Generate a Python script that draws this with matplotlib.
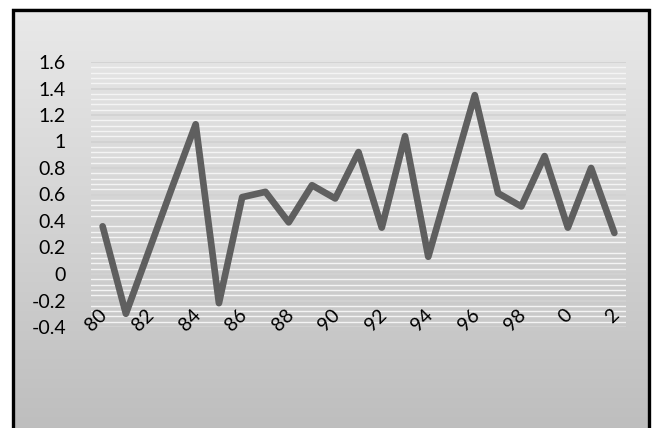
import numpy as np
import matplotlib
matplotlib.use("Agg")
import matplotlib.pyplot as plt
from matplotlib.transforms import blended_transform_factory, ScaledTranslation
from matplotlib.ticker import MultipleLocator, FixedLocator

plt.rcParams['font.family'] = ['Lato', 'DejaVu Sans']

years = list(range(1980, 2003))
values = [0.36, -0.30, 0.18, 0.66, 1.13, -0.22, 0.58, 0.62, 0.39, 0.67,
          0.57, 0.92, 0.35, 1.04, 0.13, 0.74, 1.35, 0.61, 0.51, 0.89,
          0.35, 0.80, 0.31]
tick_labels = [str(y % 100) if y % 2 == 0 else "" for y in years]
y_ticks = [-0.4, -0.2, 0, 0.2, 0.4, 0.6, 0.8, 1, 1.2, 1.4, 1.6]

W, H = 654, 428
fig = plt.figure(figsize=(W / 100, H / 100), dpi=100)
fig.patch.set_facecolor("white")

# background chart area with vertical gradient
x0, x1, ytop = 12, 650, 8
bg = fig.add_axes([x0 / W, 0, (x1 - x0) / W, (H - ytop) / H], zorder=0)
grad = np.linspace(0.915, 0.745, 256).reshape(-1, 1)
bg.imshow(np.dstack([grad, grad, grad]), aspect="auto", extent=[0, 1, 0, 1], origin="upper")
bg.set_xlim(0, 1); bg.set_ylim(0, 1)
bg.axis("off")
bg.plot([0.002, 0.002, 0.998, 0.998], [0, 0.996, 0.996, 0], color="black", lw=2.4,
        solid_joinstyle="miter", clip_on=False)

ax = fig.add_axes([91 / W, 1 - 327 / H, (626 - 91) / W, (327 - 62) / H], zorder=1)
ax.patch.set_alpha(0)
x = np.arange(len(years))
ax.set_xlim(-0.5, len(years) - 0.5)
ax.set_ylim(-0.4, 1.6)

ax.yaxis.set_major_locator(FixedLocator(y_ticks))
ax.yaxis.set_minor_locator(MultipleLocator(0.04))
ax.set_yticklabels([f"{v:g}" for v in y_ticks])
ax.grid(which="minor", axis="y", color="#f4f4f4", lw=1.0)
ax.grid(which="major", axis="y", color="#d2d2d2", lw=1.3)
ax.set_axisbelow(True)
ax.tick_params(axis="y", which="both", length=0, pad=18, labelsize=14, labelcolor="black")
ax.tick_params(axis="x", length=0, labelbottom=False)
ax.set_xticks([])
for s in ax.spines.values():
    s.set_visible(False)

ax.plot(x, values, color="#5f5f5f", lw=4.8, solid_joinstyle="round",
        solid_capstyle="round", zorder=3)

trans = blended_transform_factory(ax.transData, ax.transAxes) + \
    ScaledTranslation(2 / 100, 15 / 100, fig.dpi_scale_trans)
for i, lab in enumerate(tick_labels):
    if lab:
        ax.text(i, 0, lab, transform=trans, rotation=45, rotation_mode="anchor",
                ha="right", va="center", fontsize=14, color="black", zorder=4)

fig.savefig("out.png", dpi=100)
